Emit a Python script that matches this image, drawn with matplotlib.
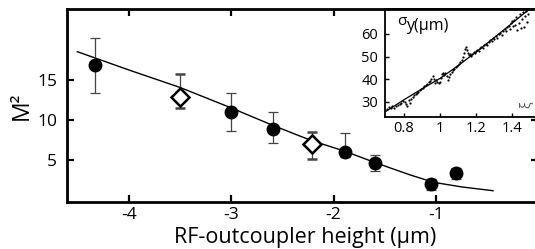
import matplotlib
matplotlib.use("Agg")
import matplotlib.pyplot as plt

plt.rcParams['font.family'] = ['Open Sans', 'DejaVu Sans']

# ---- main data ----
circ_x = [-4.33, -3.005, -2.59, -1.887, -1.593, -1.048, -0.804]
circ_y = [16.9, 10.96, 8.88, 5.96, 4.59, 1.96, 3.34]
circ_lo = [13.4, 8.66, 7.09, 5.34, 3.66, 1.25, 2.59]
circ_hi = [20.2, 13.34, 10.96, 8.34, 5.63, 2.59, 3.96]

dia_x = [-3.50, -2.213]
dia_y = [12.84, 7.0]
dia_lo = [11.54, 5.13]
dia_hi = [15.75, 8.44]

fit_x = [-4.506, -3.99, -3.50, -3.01, -2.62, -2.33, -2.21, -1.89, -1.59, -1.25, -1.02, -0.75, -0.44]
fit_y = [18.54, 16.2, 14.06, 11.56, 9.47, 8.0, 7.41, 6.1, 4.66, 3.13, 2.21, 1.64, 1.16]

xticks = [-4, -3, -2, -1]
yticks = [5, 10, 15]

# ---- inset data ----
ins_x = [0.705, 0.715, 0.725, 0.735, 0.745, 0.755, 0.765, 0.775, 0.785, 0.795,
         0.805, 0.812, 0.818, 0.825, 0.832, 0.840, 0.848, 0.856, 0.864, 0.872,
         0.880, 0.888, 0.896, 0.904, 0.912, 0.920, 0.928, 0.936, 0.944, 0.952,
         0.958, 0.964, 0.970, 0.976, 0.984, 0.992, 1.000, 1.006, 1.012, 1.018,
         1.024, 1.030, 1.036, 1.042, 1.048, 1.056, 1.064, 1.072, 1.080, 1.088,
         1.096, 1.104, 1.112, 1.120, 1.126, 1.132, 1.138, 1.144, 1.150, 1.156,
         1.162, 1.168, 1.174, 1.180, 1.186, 1.192, 1.198, 1.206, 1.214, 1.222,
         1.230, 1.238, 1.246, 1.254, 1.262, 1.270, 1.278, 1.286, 1.294, 1.302,
         1.310, 1.318, 1.326, 1.334, 1.342, 1.350, 1.358, 1.366, 1.374, 1.382,
         1.388, 1.394, 1.400, 1.406, 1.412, 1.418, 1.424, 1.430, 1.436, 1.442,
         1.448, 1.454, 1.460, 1.466, 1.472, 1.478, 1.484, 1.490]
ins_y = [27.0, 27.8, 27.3, 28.0, 27.5, 28.2, 28.6, 29.0, 29.5, 30.4,
         30.0, 29.2, 28.3, 30.8, 29.6, 31.5, 32.4, 33.0, 33.4, 34.0,
         34.6, 35.1, 35.8, 36.3, 36.9, 37.4, 37.9, 38.6, 39.4, 40.2,
         41.3, 40.0, 38.4, 39.5, 39.0, 38.2, 38.6, 40.5, 42.2, 42.9,
         42.0, 42.6, 41.4, 39.6, 40.8, 42.3, 43.4, 44.1, 44.6, 45.2,
         45.9, 46.7, 47.6, 48.6, 49.9, 51.6, 53.5, 54.2, 52.9, 51.4,
         50.6, 51.2, 50.3, 51.0, 52.1, 51.5, 52.4, 53.1, 52.6, 53.8,
         54.2, 53.6, 55.0, 55.6, 55.2, 56.6, 57.4, 56.9, 58.3, 57.8,
         59.0, 58.4, 59.8, 60.6, 59.6, 61.4, 62.0, 61.1, 62.9, 63.6,
         62.2, 64.8, 65.6, 63.4, 66.2, 64.0, 67.4, 61.8, 65.0, 68.6,
         62.4, 66.4, 69.6, 63.2, 67.8, 70.2, 65.4, 68.8]
ins_fit_x = [0.70, 0.80, 0.90, 1.00, 1.10, 1.20, 1.30, 1.40, 1.50]
ins_fit_y = [25.9, 31.0, 35.8, 40.4, 46.0, 52.0, 58.3, 64.7, 71.2]
ins_xticks = [0.8, 1.0, 1.2, 1.4]
ins_xlabels = ['0.8', '1', '1.2', '1.4']
ins_yticks = [30, 40, 50, 60]

W, H = 535, 249
fig = plt.figure(figsize=(W / 100, H / 100), dpi=100)

def frac(l, t, r, b):
    return [l / W, 1 - b / H, (r - l) / W, (b - t) / H]

ax = fig.add_axes(frac(66.7, 9, 538, 202))
ax.set_xlim(-4.61, 0.0)
ax.set_ylim(-0.25, 23.875)

ax.plot(fit_x, fit_y, color='black', lw=1.0, zorder=2)

lo_c = [y - l for y, l in zip(circ_y, circ_lo)]
hi_c = [h - y for y, h in zip(circ_y, circ_hi)]
ax.errorbar(circ_x, circ_y, yerr=[lo_c, hi_c], fmt='o', color='black',
            ms=9.0, ecolor='#444444', elinewidth=0.9, capsize=3.6,
            capthick=0.9, zorder=3)
lo_d = [y - l for y, l in zip(dia_y, dia_lo)]
hi_d = [h - y for y, h in zip(dia_y, dia_hi)]
ax.errorbar(dia_x, dia_y, yerr=[lo_d, hi_d], fmt='D', mfc='white',
            mec='black', mew=1.8, ms=9.0, ecolor='#444444', elinewidth=0.9,
            capsize=3.6, capthick=0.9, zorder=3)

ax.set_xticks(xticks)
ax.set_xticklabels([str(t) for t in xticks])
ax.set_yticks(yticks)
ax.tick_params(direction='in', length=5, width=1.6, labelsize=12.5,
               top=True, right=True, pad=3.5)
ax.tick_params(axis='y', pad=7)
for s in ax.spines.values():
    s.set_linewidth(2.0)
ax.set_xlabel('RF-outcoupler height (\u03bcm)', fontsize=15.5)
ax.xaxis.set_label_coords((305 - 66.7) / (538 - 66.7), (202 - 227) / 193.0)
ax.set_ylabel('M\u00b2', fontsize=16.5, labelpad=2)

# ---- inset ----
ia = fig.add_axes(frac(385, 9, 538, 116.7))
ia.set_xlim(0.694, 1.544)
ia.set_ylim(23.5, 70.97)
ia.plot(ins_x, ins_y, 'o', color='black', ms=1.6, mew=0)
ia.plot(ins_fit_x, ins_fit_y, color='black', lw=0.9)
ia.set_xticks(ins_xticks)
ia.set_xticklabels(ins_xlabels)
ia.set_yticks(ins_yticks)
ia.tick_params(direction='in', length=3, width=1.0, labelsize=10.5, pad=3)
ia.tick_params(axis='y', pad=5)
ia.spines['left'].set_linewidth(1.3)
ia.spines['bottom'].set_linewidth(1.3)
ia.spines['top'].set_linewidth(2.0)
ia.spines['right'].set_visible(False)

fig.text(397 / W, 1 - 25 / H, '\u03c3', fontsize=11, va='baseline', ha='left')
fig.text(406 / W, 1 - 30 / H, 'y(\u03bcm)', fontsize=11.5, va='baseline', ha='left')
fig.text(527 / W, 1 - 105 / H, '\u03be', fontsize=10, rotation=90,
         va='center', ha='center', color='#555555')

fig.savefig('out.png', dpi=100)
